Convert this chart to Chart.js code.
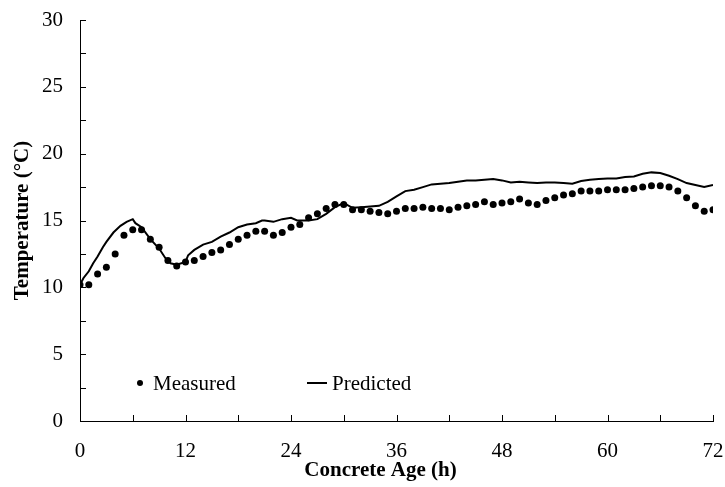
<!DOCTYPE html>
<html>
<head>
<meta charset="utf-8">
<script src="https://cdn.jsdelivr.net/npm/chart.js@4.4.1/dist/chart.umd.min.js"></script>
<style>
    html, body { margin: 0; padding: 0; background: #fff; overflow: hidden; }
    #tempChart { display: block; }
</style>
</head>
<body>
<canvas id="tempChart" width="725" height="487"></canvas>
<script>
// Horas de medição (eixo x)
const measuredHours = [0, 1, 2, 3, 4, 5, 6, 7, 8, 9, 10, 11, 12, 13, 14, 15, 16, 17, 18, 19, 20,
    21, 22, 23, 24, 25, 26, 27, 28, 29, 30, 31, 32, 33, 34, 35, 36, 37, 38, 39, 40, 41, 42,
    43, 44, 45, 46, 47, 48, 49, 50, 51, 52, 53, 54, 55, 56, 57, 58, 59, 60, 61, 62, 63, 64,
    65, 66, 67, 68, 69, 70, 71, 72];
const measuredTemp = [10.2, 10.2, 11.0, 11.5, 12.5, 13.9, 14.3, 14.3, 13.6, 13.0, 12.0, 11.6, 11.9,
    12.0, 12.3, 12.6, 12.8, 13.2, 13.6, 13.9, 14.2, 14.2, 13.9, 14.1, 14.5, 14.7, 15.2, 15.5,
    15.9, 16.2, 16.2, 15.8, 15.8, 15.7, 15.6, 15.5, 15.7, 15.9, 15.9, 16.0, 15.9, 15.9, 15.8,
    16.0, 16.1, 16.2, 16.4, 16.2, 16.3, 16.4, 16.6, 16.3, 16.2, 16.5, 16.7, 16.9, 17.0, 17.2,
    17.2, 17.2, 17.3, 17.3, 17.3, 17.4, 17.5, 17.6, 17.6, 17.5, 17.2, 16.7, 16.1, 15.7, 15.8];

// Curva prevista
const predictedHours = [0, 0.4, 1, 1.5, 2, 2.6, 3, 3.8, 4.6, 5.3, 6, 6.3, 7, 8, 9, 9.7, 10.3, 11,
    12, 12.3, 13, 14, 15, 16, 17, 18, 19, 20, 20.7, 21, 22, 23, 24, 24.7, 25, 26, 27, 28, 29,
    30, 31, 32, 33, 34, 35, 36, 37, 38, 39, 40, 41, 42, 43, 44, 45, 46, 47, 48, 49, 50, 51,
    52, 53, 54, 55, 56, 57, 58, 59, 60, 61, 62, 63, 64, 65, 66, 67, 68, 69, 70, 71, 72];
const predictedTemp = [10.2, 10.7, 11.2, 11.8, 12.3, 13.0, 13.4, 14.1, 14.6, 14.9, 15.1, 14.8,
    14.5, 13.6, 12.9, 12.2, 11.8, 11.7, 11.9, 12.4, 12.8, 13.2, 13.4, 13.8, 14.1, 14.5, 14.7,
    14.8, 15.0, 15.0, 14.9, 15.1, 15.2, 15.0, 15.0, 15.0, 15.1, 15.5, 16.0, 16.3, 15.95, 16.0,
    16.05, 16.1, 16.4, 16.8, 17.2, 17.3, 17.5, 17.7, 17.75, 17.8, 17.9, 18.0, 18.0, 18.05,
    18.1, 18.0, 17.85, 17.9, 17.85, 17.8, 17.85, 17.85, 17.8, 17.75, 17.95, 18.05, 18.1,
    18.15, 18.15, 18.25, 18.3, 18.5, 18.6, 18.55, 18.35, 18.1, 17.8, 17.65, 17.5, 17.65];

// Marcas dos eixos
const xTickLabels = [0, 12, 24, 36, 48, 60, 72];
const xMinorStep = 6;
const yTickLabels = [0, 5, 10, 15, 20, 25, 30];
const yMinorStep = 2.5;

const FONT = "'Liberation Serif', 'Times New Roman', serif";

// Marcas para dentro do gráfico
const innerTicks = {
    id: 'innerTicks',
    afterDraw(chart) {
        const ctx = chart.ctx;
        const xs = chart.scales.x, ys = chart.scales.y;
        const area = chart.chartArea;
        ctx.save();
        ctx.strokeStyle = '#000';
        ctx.lineWidth = 1;
        ctx.beginPath();
        for (let v = xs.min; v <= xs.max + 1e-9; v += xMinorStep) {
            const px = Math.round(xs.getPixelForValue(v)) + 0.5;
            ctx.moveTo(px, area.bottom);
            ctx.lineTo(px, area.bottom - 6);
        }
        for (let v = ys.min; v <= ys.max + 1e-9; v += yMinorStep) {
            const py = Math.round(ys.getPixelForValue(v)) + 0.5;
            ctx.moveTo(area.left, py);
            ctx.lineTo(area.left + 6, py);
        }
        ctx.stroke();
        ctx.restore();
    }
};

// Legenda dentro da área do gráfico + título do eixo x (um pouco à esquerda do centro)
const insideLegend = {
    id: 'insideLegend',
    afterDraw(chart) {
        const ctx = chart.ctx;
        const area = chart.chartArea;
        const y = area.bottom - 38;
        ctx.save();
        ctx.fillStyle = '#000';
        ctx.strokeStyle = '#000';
        ctx.font = '21px ' + FONT;
        ctx.textBaseline = 'middle';

        ctx.beginPath();
        ctx.arc(area.left + 60, y, 3, 0, Math.PI * 2);
        ctx.fill();
        ctx.fillText('Measured', area.left + 73, y + 1);

        ctx.lineWidth = 2;
        ctx.beginPath();
        ctx.moveTo(area.left + 227, y);
        ctx.lineTo(area.left + 247, y);
        ctx.stroke();
        ctx.fillText('Predicted', area.left + 252, y + 1);

        ctx.font = 'bold 21px ' + FONT;
        ctx.textAlign = 'center';
        ctx.fillText('Concrete Age (h)', (area.left + area.right) / 2 - 16, area.bottom + 50);
        ctx.restore();
    }
};

function renderChart() {
    const ctx = document.getElementById('tempChart').getContext('2d');

    const measuredData = measuredHours.map((h, i) => ({ x: h, y: measuredTemp[i] }));
    const predictedData = predictedHours.map((h, i) => ({ x: h, y: predictedTemp[i] }));

    new Chart(ctx, {
        type: 'scatter',
        data: {
            datasets: [
                {
                    label: 'Measured',
                    data: measuredData,
                    backgroundColor: '#000',
                    borderColor: '#000',
                    pointRadius: 3.5,
                    pointBorderWidth: 0,
                    showLine: false
                },
                {
                    label: 'Predicted',
                    data: predictedData,
                    borderColor: '#000',
                    borderWidth: 2,
                    pointRadius: 0,
                    showLine: true,
                    tension: 0
                }
            ]
        },
        options: {
            responsive: false,
            animation: false,
            devicePixelRatio: 1,
            layout: { padding: { left: 0, right: 12, top: 20, bottom: 0 } },
            plugins: {
                legend: { display: false },
                tooltip: { enabled: false }
            },
            scales: {
                x: {
                    type: 'linear',
                    min: 0,
                    max: 72,
                    afterFit: (scale) => {
                        scale.height = 66;
                        scale.paddingLeft = 0;
                        scale.paddingRight = 0;
                    },
                    afterBuildTicks: (scale) => { scale.ticks = xTickLabels.map(v => ({ value: v })); },
                    grid: { display: false, drawTicks: false },
                    border: { display: true, color: '#000', width: 1 },
                    ticks: {
                        color: '#000',
                        font: { family: FONT, size: 21 },
                        padding: 18,
                        maxRotation: 0
                    },
                    title: { display: false }
                },
                y: {
                    min: 0,
                    max: 30,
                    afterFit: (scale) => {
                        scale.width = 80;
                        scale.paddingTop = 0;
                        scale.paddingBottom = 0;
                    },
                    afterBuildTicks: (scale) => { scale.ticks = yTickLabels.map(v => ({ value: v })); },
                    grid: { display: false, drawTicks: false },
                    border: { display: true, color: '#000', width: 1 },
                    ticks: {
                        color: '#000',
                        font: { family: FONT, size: 21 },
                        padding: 17
                    },
                    title: {
                        display: true,
                        text: 'Temperature (°C)',
                        color: '#000',
                        font: { family: FONT, size: 21, weight: 'bold' },
                        padding: { top: 10, bottom: 0 }
                    }
                }
            }
        },
        plugins: [innerTicks, insideLegend]
    });
}

document.addEventListener('DOMContentLoaded', () => {
    renderChart();
});
</script>
</body>
</html>
